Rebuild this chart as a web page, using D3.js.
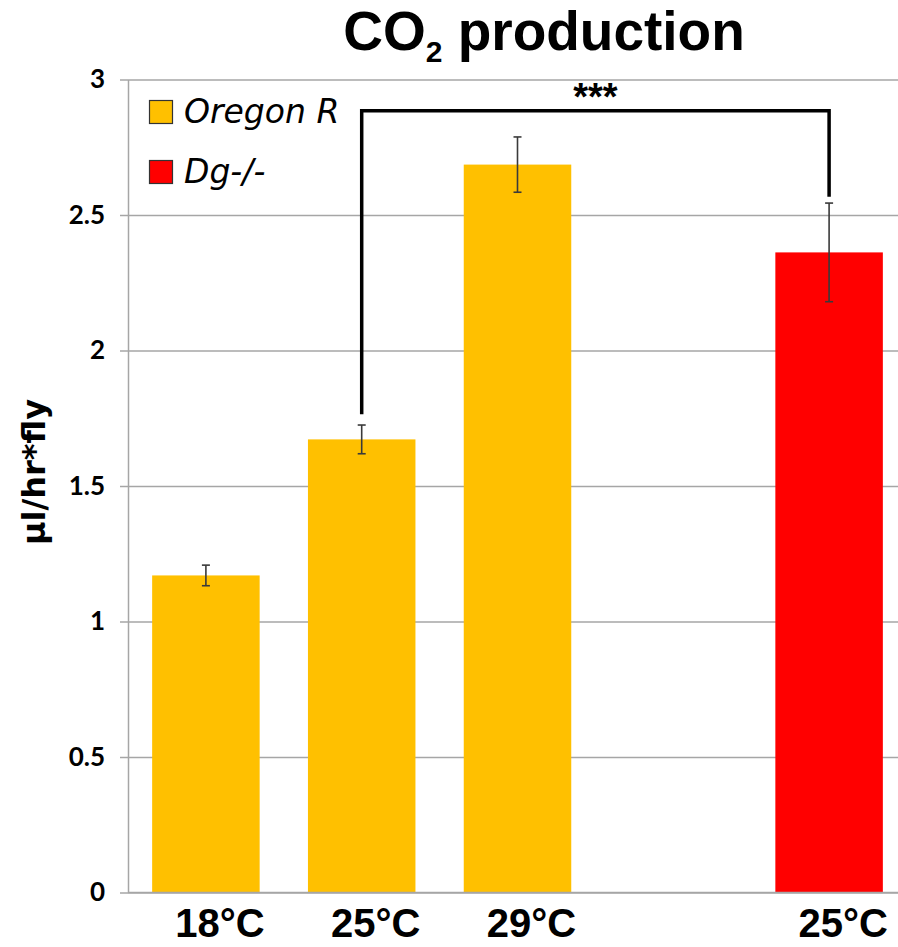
<!DOCTYPE html>
<html>
<head>
<meta charset="utf-8">
<script src="https://cdn.jsdelivr.net/npm/d3@7"></script>
<style>
  body { margin: 0; background: #fff; overflow: hidden; }
  svg { display: block; }
</style>
</head>
<body>
<div id="chart"></div>
<script>
// data
const slots = ["or18", "or25", "or29", "gap", "dg25"];
const labels = ["18°C", "25°C", "29°C", "", "25°C"];
const groups = ["Oregon R", "Oregon R", "Oregon R", null, "Dg-/-"];
const values = [1.17, 1.672, 2.686, null, 2.362];
const errors = [0.038, 0.053, 0.102, null, 0.182];
const legendNames = ["Oregon R", "Dg-/-"];
const yTicks = [0, 0.5, 1, 1.5, 2, 2.5, 3];
// significance bracket: from slot, to slot, level, left end, right end
const sigFrom = "or25", sigTo = "dg25";
const sigLevel = 2.885, sigEnds = [1.765, 2.567];
const sigText = "***";

const W = 898, H = 947;
const margin = {top: 79.5, left: 128, right: 0, bottom: 54.5};
const colors = d3.scaleOrdinal().domain(legendNames).range(["#FFC000", "#FF0000"]);

const svg = d3.select("#chart").append("svg")
    .attr("width", W).attr("height", H);

const x = d3.scaleBand()
    .domain(slots)
    .range([margin.left, 907])
    .paddingInner(0.31)
    .paddingOuter(0.155);

const y = d3.scaleLinear()
    .domain([0, 3])
    .range([H - margin.bottom, margin.top]);

// gridlines + ticks
const yAxis = d3.axisLeft(y)
    .tickValues(yTicks)
    .tickFormat(d => d)
    .tickSize(-(W - margin.left))
    .tickSizeOuter(0)
    .tickPadding(23);

const yAx = svg.append("g")
    .attr("transform", `translate(${margin.left},0)`)
    .call(yAxis);
yAx.select(".domain").attr("stroke", "#a6a6a6").attr("stroke-width", 1.5);
yAx.selectAll(".tick line")
    .attr("x1", -8)
    .attr("stroke", "#a6a6a6").attr("stroke-width", 1.5);
yAx.selectAll(".tick text")
    .attr("font-family", "Lato, 'Open Sans', sans-serif")
    .attr("font-weight", "bold")
    .attr("font-size", 26)
    .attr("fill", "#000");

// bars
const rows = slots.map((s, i) => ({slot: s, label: labels[i], group: groups[i], value: values[i], err: errors[i]}))
    .filter(d => d.value != null);

svg.append("g").selectAll("rect")
    .data(rows)
    .join("rect")
    .attr("x", d => x(d.slot))
    .attr("width", x.bandwidth())
    .attr("y", d => y(d.value))
    .attr("height", d => y(0) - y(d.value))
    .attr("fill", d => colors(d.group));

// x-axis baseline over the bars
svg.append("line")
    .attr("x1", margin.left).attr("x2", W)
    .attr("y1", y(0)).attr("y2", y(0))
    .attr("stroke", "#a6a6a6").attr("stroke-width", 1.5);

// error bars
const eb = svg.append("g").attr("stroke", "#3a3a3a").attr("stroke-width", 1.6);
rows.forEach(d => {
    const cx = x(d.slot) + x.bandwidth() / 2;
    eb.append("line").attr("x1", cx).attr("x2", cx)
        .attr("y1", y(d.value + d.err)).attr("y2", y(d.value - d.err));
    [d.value + d.err, d.value - d.err].forEach(v => {
        eb.append("line").attr("x1", cx - 4).attr("x2", cx + 4)
            .attr("y1", y(v)).attr("y2", y(v));
    });
});

// x labels
svg.append("g").selectAll("text")
    .data(rows)
    .join("text")
    .attr("x", d => x(d.slot) + x.bandwidth() / 2 + 14)
    .attr("y", 937)
    .attr("text-anchor", "middle")
    .attr("font-family", "'Liberation Sans', Arial, sans-serif")
    .attr("font-weight", "bold")
    .attr("font-size", 40)
    .text(d => d.label);

// significance bracket
const bx1 = x(sigFrom) + x.bandwidth() / 2, bx2 = x(sigTo) + x.bandwidth() / 2;
svg.append("path")
    .attr("d", `M${bx1},${y(sigEnds[0])}V${y(sigLevel)}H${bx2}V${y(sigEnds[1])}`)
    .attr("fill", "none")
    .attr("stroke", "#000")
    .attr("stroke-width", 3.5);
svg.append("text")
    .attr("x", (bx1 + bx2) / 2)
    .attr("y", y(sigLevel) - 1)
    .attr("text-anchor", "middle")
    .attr("font-family", "'Liberation Sans', Arial, sans-serif")
    .attr("font-weight", "bold")
    .attr("font-size", 38)
    .text(sigText);

// legend
const leg = svg.append("g");
legendNames.forEach((n, i) => {
    leg.append("rect")
        .attr("x", 149.5).attr("y", 100.5 + i * 60)
        .attr("width", 23).attr("height", 23)
        .attr("fill", colors(n))
        .attr("stroke", "#333").attr("stroke-width", 1.2);
    leg.append("text")
        .attr("x", 184).attr("y", 123 + i * 60)
        .attr("font-family", "'DejaVu Sans', sans-serif")
        .attr("font-style", "italic")
        .attr("font-size", 33)
        .text(n);
});

// y title
svg.append("text")
    .attr("transform", "translate(45,472) rotate(-90)")
    .attr("text-anchor", "middle")
    .attr("font-family", "'DejaVu Sans', sans-serif")
    .attr("font-weight", "bold")
    .attr("font-size", 32)
    .text("µl/hr*fly");

// title
const title = svg.append("text")
    .attr("x", 544).attr("y", 50)
    .attr("text-anchor", "middle")
    .attr("font-family", "'Liberation Sans', Arial, sans-serif")
    .attr("font-weight", "bold")
    .attr("font-size", 55);
title.append("tspan").text("CO");
title.append("tspan").attr("font-size", 30).attr("dy", 12).text("2");
title.append("tspan").attr("dy", -12).text(" production");
</script>
</body>
</html>
